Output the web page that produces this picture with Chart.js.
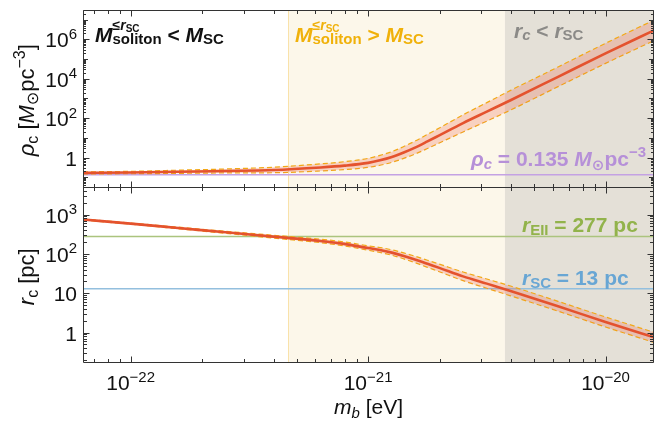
<!DOCTYPE html>
<html><head><meta charset="utf-8">
<script src="https://cdn.jsdelivr.net/npm/chart.js@4.4.1/dist/chart.umd.min.js"></script>
<style>html,body{margin:0;padding:0;background:#fff}#wrap{width:662px;height:430px}</style>
</head><body><div id="wrap"><canvas id="c" width="662" height="430"></canvas></div>
<script>
// ---- data ----
const mb = [6.3e-23, 1.0e-22, 1.585e-22, 2.512e-22, 3.981e-22, 6.31e-22, 7.943e-22, 1.0e-21, 1.122e-21, 1.259e-21, 1.413e-21, 1.585e-21, 1.778e-21, 1.995e-21, 2.512e-21, 3.162e-21, 3.981e-21, 6.31e-21, 1.0e-20, 1.6e-20];
const rhoMid = [0.168, 0.174, 0.191, 0.209, 0.234, 0.316, 0.389, 0.537, 0.724, 1.07, 1.82, 3.31, 6.61, 13.5, 56.2, 214, 813, 1.26e4, 1.95e5, 2.88e6];
const rhoHi  = [0.188, 0.200, 0.229, 0.263, 0.324, 0.479, 0.617, 0.912, 1.29, 2.00, 3.63, 7.08, 15.1, 31.6, 148, 617, 2570, 3.98e4, 6.31e5, 9.55e6];
const rhoLo  = [0.150, 0.151, 0.158, 0.166, 0.170, 0.209, 0.245, 0.316, 0.407, 0.575, 0.912, 1.55, 2.88, 5.50, 20.0, 70.8, 257, 3.98e3, 6.03e4, 8.71e5];
const rcMid = [750, 589, 457, 355, 275, 214, 180, 141, 126, 108, 89.1, 71.6, 56.2, 44.2, 26.9, 17.6, 11.5, 4.68, 1.86, 0.759];
const rcHi  = [771, 610, 479, 376, 299, 237, 202, 161, 146, 127, 106, 86.5, 69.2, 55.2, 34.7, 23.1, 15.3, 6.24, 2.50, 1.02];
const rcLo  = [729, 569, 437, 335, 254, 193, 160, 124, 109, 92.7, 75.0, 59.3, 45.7, 35.3, 20.9, 13.4, 8.61, 3.51, 1.39, 0.562];
const rhoCrit = 0.135;   // M_sun pc^-3
const rEII = 277;        // pc
const rSC = 13;          // pc
const mbSolitonBound = 4.61e-22;
const mbCoreBound = 3.77e-21;
const xRange = [6.3e-23, 1.6e-20];
const rhoRange = [0.034, 3.1e7];
const rcRange = [0.169, 5180];
const xTickVals = [1e-22, 1e-21, 1e-20];
const xTickLabels = ['10^-22', '10^-21', '10^-20'];
const rhoTickVals = [1, 1e2, 1e4, 1e6];
const rhoTickLabels = ['1', '10^2', '10^4', '10^6'];
const rcTickVals = [1, 10, 100, 1000];
const rcTickLabels = ['1', '10', '10^2', '10^3'];

// ---- helpers ----
const FF = '"Liberation Sans", Arimo, Arial, "DejaVu Sans", sans-serif';
function fnt(s, it, b) { return (it ? 'italic ' : '') + (b ? 'bold ' : '') + s + 'px ' + FF; }
function segW(ctx, g, b) {
  if (g.stack) return Math.max(...g.stack.map(r => runW(ctx, r, b)));
  ctx.font = fnt(g.s, g.i, b); return ctx.measureText(g.t).width + (g.dx || 0);
}
function runW(ctx, segs, b) { return segs.reduce((a, g) => a + segW(ctx, g, b), 0); }
function drawRun(ctx, x, y, segs, b) {
  for (const g of segs) {
    if (g.stack) { for (const r of g.stack) drawRun(ctx, x, y, r, b); x += segW(ctx, g, b); }
    else {
      x += (g.dx || 0); ctx.font = fnt(g.s, g.i, b);
      ctx.fillText(g.t, x, y + (g.dy || 0)); x += ctx.measureText(g.t).width;
    }
  }
  return x;
}
function rich(ctx, x, y, segs, opt) {
  const b = !!opt.bold; const w = runW(ctx, segs, b);
  let sx = opt.align === 'center' ? x - w / 2 : opt.align === 'right' ? x - w : x;
  ctx.save(); ctx.fillStyle = opt.color || '#111'; ctx.textAlign = 'left'; ctx.textBaseline = 'alphabetic';
  drawRun(ctx, sx, y, segs, b); ctx.restore();
}
function labelSegs(lbl) {
  const p = lbl.split('^');
  const s = [{ t: p[0], s: 21 }];
  if (p[1]) s.push({ t: p[1].replace('-', '\u2212'), s: 15, dy: -8.5 });
  return s;
}
function logTicks(min, max) {
  const out = [];
  for (let d = Math.floor(Math.log10(min)) - 1; d <= Math.ceil(Math.log10(max)); d++) {
    for (let k = 1; k <= 9; k++) {
      const v = k * Math.pow(10, d);
      if (v >= min * 0.9999 && v <= max * 1.0001) out.push({ v, k, d });
    }
  }
  return out;
}

const bgPlugin = {
  id: 'bg',
  beforeDatasetsDraw(chart) {
    const { ctx, chartArea: a, scales } = chart;
    const xs = scales.x;
    const x1 = xs.getPixelForValue(mbSolitonBound), x2 = xs.getPixelForValue(mbCoreBound);
    ctx.save();
    ctx.fillStyle = '#fcf7ea'; ctx.fillRect(x1, a.top, x2 - x1, a.bottom - a.top);
    ctx.fillStyle = '#e4e0d7'; ctx.fillRect(x2, a.top, a.right - x2, a.bottom - a.top);
    ctx.strokeStyle = '#f9e2aa'; ctx.lineWidth = 1;
    ctx.beginPath(); ctx.moveTo(Math.round(x1) + 0.5, a.top); ctx.lineTo(Math.round(x1) + 0.5, a.bottom); ctx.stroke();
    ctx.restore();
  }
};

const framePlugin = {
  id: 'frame',
  afterDraw(chart) {
    const { ctx, chartArea: a, scales } = chart;
    const xs = scales.x, yt = scales.yRho, yb = scales.yRc;
    const yDiv = yt.bottom;
    ctx.save();
    ctx.strokeStyle = '#333'; ctx.lineWidth = 1;
    const L = Math.round(a.left) + 0.5, R = Math.round(a.right) - 0.5, T = Math.round(a.top) + 0.5, B = Math.round(a.bottom) - 0.5, D = Math.round(yDiv) + 0.5;
    ctx.beginPath();
    ctx.rect(L, T, R - L, B - T);
    ctx.moveTo(L, D); ctx.lineTo(R, D);
    for (const t of logTicks(xRange[0], xRange[1])) {
      const px = Math.round(xs.getPixelForValue(t.v)) + 0.5;
      const len = t.k === 1 ? 6 : 3.5;
      ctx.moveTo(px, B); ctx.lineTo(px, B - len);
      ctx.moveTo(px, T); ctx.lineTo(px, T + len);
      ctx.moveTo(px, D - len); ctx.lineTo(px, D + len);
    }
    for (const t of logTicks(rhoRange[0], rhoRange[1])) {
      const py = Math.round(yt.getPixelForValue(t.v)) + 0.5;
      const len = t.k === 1 ? (t.d % 2 === 0 ? 6 : 4.5) : 2.5;
      ctx.moveTo(L, py); ctx.lineTo(L + len, py);
      ctx.moveTo(R, py); ctx.lineTo(R - len, py);
    }
    for (const t of logTicks(rcRange[0], rcRange[1])) {
      const py = Math.round(yb.getPixelForValue(t.v)) + 0.5;
      const len = t.k === 1 ? 6 : 3.5;
      ctx.moveTo(L, py); ctx.lineTo(L + len, py);
      ctx.moveTo(R, py); ctx.lineTo(R - len, py);
    }
    ctx.stroke();
    ctx.restore();

    xTickVals.forEach((v, i) => rich(ctx, xs.getPixelForValue(v), a.bottom + 27, labelSegs(xTickLabels[i]), { align: 'center' }));
    rhoTickVals.forEach((v, i) => rich(ctx, a.left - 6, yt.getPixelForValue(v) + 8, labelSegs(rhoTickLabels[i]), { align: 'right' }));
    rcTickVals.forEach((v, i) => rich(ctx, a.left - 6, yb.getPixelForValue(v) + 8, labelSegs(rcTickLabels[i]), { align: 'right' }));

    rich(ctx, (a.left + a.right) / 2, 414, [{ t: 'm', s: 21, i: true }, { t: 'b', s: 15, i: true, dy: 4 }, { t: ' [eV]', s: 21 }], { align: 'center' });
    ctx.save(); ctx.translate(34, (yt.top + yt.bottom) / 2 + 2); ctx.rotate(-Math.PI / 2);
    rich(ctx, 0, 0, [{ t: '\u03C1', s: 22, i: true }, { t: 'c', s: 16, dy: 4 }, { t: ' [', s: 22 }, { t: 'M', s: 22, i: true }, { t: '\u2299', s: 16, dy: 4 }, { t: 'pc', s: 22 }, { t: '\u22123', s: 16, dy: -9 }, { t: ']', s: 22 }], { align: 'center' });
    ctx.restore();
    ctx.save(); ctx.translate(34, (yb.top + yb.bottom) / 2 + 2); ctx.rotate(-Math.PI / 2);
    rich(ctx, 0, 0, [{ t: 'r', s: 22, i: true }, { t: 'c', s: 16, dy: 4 }, { t: ' [pc]', s: 22 }], { align: 'center' });
    ctx.restore();

    const mSol = (cmp) => [
      { t: 'M', s: 21, i: true },
      { stack: [[{ t: '\u2264', s: 14, dy: -12 }, { t: 'r', s: 14, i: true, dy: -12 }, { t: 'SC', s: 10, dy: -10 }], [{ t: 'soliton', s: 15, dy: 2 }]] },
      { t: ' ' + cmp + ' ', s: 21 },
      { t: 'M', s: 21, i: true },
      { t: 'SC', s: 15, dy: 2 }
    ];
    rich(ctx, 95, 42, mSol('<'), { bold: true, color: '#111' });
    rich(ctx, 295, 42, mSol('>'), { bold: true, color: '#f0b10a' });
    rich(ctx, 514, 38, [{ t: 'r', s: 21, i: true }, { t: 'c', s: 15, i: true, dy: 2 }, { t: ' < ', s: 21 }, { t: 'r', s: 21, i: true }, { t: 'SC', s: 15, dy: 2 }], { bold: true, color: '#8b8a87' });
    rich(ctx, 646, 166, [{ t: '\u03C1', s: 21, i: true }, { t: 'c', s: 15, i: true, dy: 3 }, { t: ' = 0.135 ', s: 21 }, { t: 'M', s: 21, i: true }, { t: '\u2299', s: 15, dy: 4 }, { t: 'pc', s: 21 }, { t: '\u22123', s: 15, dy: -9 }], { bold: true, color: '#b690d8', align: 'right' });
    rich(ctx, 522, 232, [{ t: 'r', s: 21, i: true }, { t: 'EII', s: 15, dy: 3 }, { t: ' = 277 pc', s: 21 }], { bold: true, color: '#92b34b' });
    rich(ctx, 522, 285, [{ t: 'r', s: 21, i: true }, { t: 'SC', s: 15, dy: 3 }, { t: ' = 13 pc', s: 21 }], { bold: true, color: '#68a6d4' });
  }
};

const pts = (ys) => mb.map((m, i) => ({ x: m, y: ys[i] }));
const flat = (v) => [{ x: xRange[0], y: v }, { x: xRange[1], y: v }];
const dashC = '#f2a915', bandC = 'rgba(238,112,82,0.28)', redC = '#e4522e';
const common = { pointRadius: 0, cubicInterpolationMode: 'monotone' };
const noAxis = { ticks: { display: false }, grid: { display: false }, border: { display: false } };

new Chart(document.getElementById('c'), {
  type: 'line',
  data: {
    datasets: [
      { ...common, data: pts(rhoHi), yAxisID: 'yRho', borderColor: dashC, borderWidth: 1.2, borderDash: [5, 3], fill: '+1', backgroundColor: bandC, order: 2 },
      { ...common, data: pts(rhoLo), yAxisID: 'yRho', borderColor: dashC, borderWidth: 1.2, borderDash: [5, 3], fill: false, order: 2 },
      { ...common, data: pts(rcHi), yAxisID: 'yRc', borderColor: dashC, borderWidth: 1.2, borderDash: [5, 3], fill: '+1', backgroundColor: bandC, order: 2 },
      { ...common, data: pts(rcLo), yAxisID: 'yRc', borderColor: dashC, borderWidth: 1.2, borderDash: [5, 3], fill: false, order: 2 },
      { ...common, data: flat(rhoCrit), yAxisID: 'yRho', borderColor: '#c4a2e3', borderWidth: 1.6, fill: false, order: 3 },
      { ...common, data: flat(rEII), yAxisID: 'yRc', borderColor: '#abc47e', borderWidth: 1.6, fill: false, order: 3 },
      { ...common, data: flat(rSC), yAxisID: 'yRc', borderColor: '#93bfde', borderWidth: 1.6, fill: false, order: 3 },
      { ...common, data: pts(rhoMid), yAxisID: 'yRho', borderColor: redC, borderWidth: 2.6, fill: false, order: 0 },
      { ...common, data: pts(rcMid), yAxisID: 'yRc', borderColor: redC, borderWidth: 2.6, fill: false, order: 0 }
    ]
  },
  options: {
    responsive: false, animation: false, devicePixelRatio: 1,
    layout: { padding: { top: 10, right: 8, left: 0, bottom: 0 } },
    plugins: { legend: { display: false }, tooltip: { enabled: false } },
    scales: {
      x: { type: 'logarithmic', position: 'bottom', min: xRange[0], max: xRange[1], ...noAxis, afterFit(s) { s.height = 67; } },
      yRc: { type: 'logarithmic', position: 'left', stack: 'panels', stackWeight: 1, weight: 0, min: rcRange[0], max: rcRange[1], ...noAxis, afterFit(s) { s.width = 83; } },
      yRho: { type: 'logarithmic', position: 'left', stack: 'panels', stackWeight: 1, weight: 1, min: rhoRange[0], max: rhoRange[1], ...noAxis, afterFit(s) { s.width = 83; } }
    }
  },
  plugins: [bgPlugin, framePlugin]
});
</script>
</body></html>
